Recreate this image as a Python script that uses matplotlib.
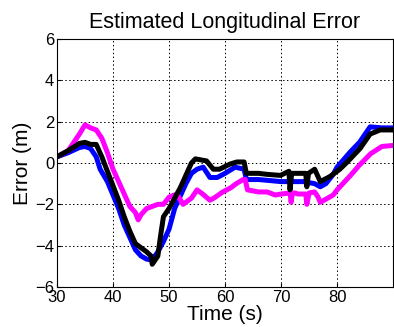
import matplotlib
matplotlib.use("Agg")
import matplotlib.pyplot as plt

plt.rcParams["font.family"] = ["Liberation Sans", "DejaVu Sans"]

# magenta estimate
t_mag = [30, 32, 34, 35, 36, 37, 38, 39, 40, 41, 42, 43, 44, 44.5, 45, 46, 47, 48, 49,
         50, 51.4, 52.5, 53, 54, 55, 56, 57.3, 58, 59.6, 61, 62, 63.2, 63.6, 64, 66,
         67.5, 69, 70, 71.6, 71.8, 72, 72.5, 73, 74.4, 74.6, 75, 76, 76.6, 77, 78, 79.3,
         80, 82.4, 84, 86, 88, 90]
e_mag = [0.3, 0.6, 1.4, 1.85, 1.7, 1.6, 1.2, 0.5, -0.3, -0.9, -1.5, -2.1, -2.4, -2.75,
         -2.5, -2.2, -2.1, -2.0, -2.0, -1.65, -1.5, -2.0, -1.9, -1.7, -1.3, -1.5, -1.8,
         -1.7, -1.4, -1.2, -1.0, -0.8, -0.8, -1.3, -1.4, -1.4, -1.55, -1.5, -1.45, -1.9,
         -1.45, -1.45, -1.5, -1.5, -2.0, -1.45, -1.4, -1.65, -1.9, -1.75, -1.55, -1.3,
         -0.6, -0.1, 0.45, 0.8, 0.85]

# blue estimate
t_blue = [30, 32, 34, 35, 36, 37, 37.7, 39, 40, 41, 42, 43, 44, 45, 46, 47, 48, 49, 50,
          51, 52, 53, 54, 55, 56.1, 57.3, 58.6, 60, 61.8, 63.4, 63.8, 66, 68, 70, 72,
          74, 76, 77, 78, 79.3, 80, 82.4, 84, 85.9, 88, 90]
e_blue = [0.3, 0.5, 0.75, 0.8, 0.7, 0.3, -0.3, -0.9, -1.55, -2.2, -3.0, -3.6, -4.2,
          -4.5, -4.65, -4.7, -4.3, -3.8, -3.2, -2.2, -1.6, -1.0, -0.5, -0.3, -0.2, -0.7,
          -0.7, -0.5, -0.2, -0.3, -0.8, -0.8, -0.85, -0.9, -0.9, -0.9, -1.0, -1.15, -1.0,
          -0.55, -0.2, 0.55, 1.0, 1.75, 1.7, 1.7]

# black estimate
t_black = [30, 32, 34, 35, 36, 37, 38, 39, 40, 41, 42, 43, 44, 45, 46, 46.8, 47, 48,
           48.5, 49, 50, 51, 52, 53, 54, 54.7, 56.7, 57.9, 59, 60.9, 62.1, 63.4, 63.8,
           66, 67.5, 69.9, 71.4, 71.6, 71.9, 73.4, 74.4, 74.6, 74.9, 76, 77, 78.75,
           80.5, 82, 84.1, 85.9, 87.7, 90]
e_black = [0.3, 0.6, 0.95, 1.0, 0.9, 0.9, 0.3, -0.4, -1.1, -1.8, -2.6, -3.3, -3.9, -4.1,
           -4.3, -4.5, -4.9, -4.5, -3.5, -2.6, -2.2, -1.7, -1.2, -0.6, 0.0, 0.2, 0.1,
           -0.3, -0.3, -0.05, 0.05, 0.05, -0.5, -0.5, -0.55, -0.6, -0.4, -1.3, -0.5,
           -0.5, -0.5, -1.15, -0.5, -0.3, -0.9, -0.65, -0.3, 0.1, 0.7, 1.4, 1.6, 1.6]

xticks = [30, 40, 50, 60, 70, 80]
yticks = [-6, -4, -2, 0, 2, 4, 6]

fig = plt.figure(figsize=(3.94, 3.27), dpi=100)
ax = fig.add_axes([0.1447, 0.1223, 0.853, 0.7584])

ax.plot(t_blue, e_blue, color="#0000ff", lw=3.6)
ax.plot(t_mag, e_mag, color="#ff00ff", lw=3.6)
ax.plot(t_black, e_black, color="black", lw=3.6)

ax.set_xlim(30, 90)
ax.set_ylim(-6, 6)
ax.set_xticks(xticks)
ax.set_yticks(yticks)
ax.tick_params(direction="in", labelsize=12, length=3, pad=2)
ax.grid(True, color="black", linestyle=(0, (1.5, 2.5)), linewidth=0.7)

ax.set_title("Estimated Longitudinal Error", fontsize=15.5, pad=8)
ax.set_xlabel("Time (s)", fontsize=15, labelpad=0)
ax.set_ylabel("Error (m)", fontsize=15, labelpad=2)

fig.savefig("out.png", dpi=100)
